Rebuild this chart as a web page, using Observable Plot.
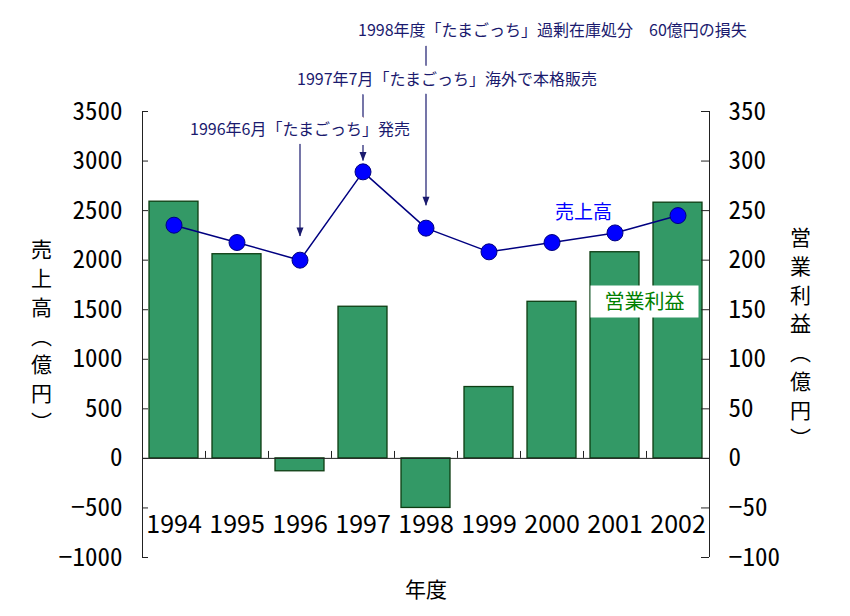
<!DOCTYPE html>
<html>
<head>
<meta charset="utf-8">
<script src="https://cdn.jsdelivr.net/npm/d3@7"></script>
<script src="https://cdn.jsdelivr.net/npm/@observablehq/plot@0.6"></script>
<style>
  html, body { margin: 0; padding: 0; background: #fff; }
  #chart svg { display: block; }
  #chart g[aria-label="y-axis tick label"] text,
  #chart g[aria-label="year-label"] text { font-feature-settings: "hwid"; }
</style>
</head>
<body>
<div id="chart"></div>
<script>
// ---- data ----
const years = ["1994", "1995", "1996", "1997", "1998", "1999", "2000", "2001", "2002"];
const sales = [2353, 2178, 2000, 2891, 2323, 2084, 2178, 2275, 2450];      // 売上高 (億円), left axis
const profit = [259, 206, -13, 153, -50, 72, 158, 208, 258];                // 営業利益 (億円), right axis
const leftTicks = [-1000, -500, 0, 500, 1000, 1500, 2000, 2500, 3000, 3500];
const annoYear = ["1996", "1997", "1998"];
const annoText = [
  "1996年6月「たまごっち」発売",
  "1997年7月「たまごっち」海外で本格販売",
  "1998年度「たまごっち」過剰在庫処分　60億円の損失"
];
const annoTextY = [3310, 3820, 4310];
const annoLineTop = [3170, 3690, 4160];
const annoTip = [2240, 3000, 2550];

// ---- layout ----
const W = 850, H = 616, ML = 142, MR = 141, MT = 111, MB = 59;
const plotW = W - ML - MR;
const step = plotW / years.length;
const NUM_FONT = '"Noto Sans CJK JP","Noto Sans CJK SC",sans-serif';
const JP_FONT = '"Noto Sans CJK JP","Noto Sans CJK SC",sans-serif';
const NAVY = "#1a1a6e";
const fmt = d => (d < 0 ? "\u2212" : "") + Math.abs(d);

const annos = annoYear.map((year, i) => ({year, text: annoText[i], ty: annoTextY[i], top: annoLineTop[i], tip: annoTip[i]}));
const annoAnchor = ["middle", "start", "start"];
const annoDx = [0, -66, -68];

const rectSym = (w, h) => ({draw(ctx) { ctx.rect(-w / 2, -h / 2, w, h); }});
const arrowSym = {draw(ctx) { ctx.moveTo(-3.5, -9); ctx.lineTo(3.5, -9); ctx.lineTo(0, 0); ctx.closePath(); }};

const marks = [
  // bars: operating profit (right axis is 1/10 of left)
  Plot.barY(years, {x: d => d, y: (d, i) => profit[i] * 10, fill: "#339966", stroke: "#0d3d12", strokeWidth: 1.3}),
  Plot.ruleY([0], {stroke: "#222", strokeWidth: 1}),
  // category boundary ticks
  Plot.ruleX(years.slice(1), {x: d => d, dx: -step / 2, y1: 0, y2: 70, stroke: "#222"}),
  // axis lines
  Plot.ruleX([years[0]], {x: d => d, dx: -step / 2, y1: -1000, y2: 3500, stroke: "#222"}),
  Plot.ruleX([years[years.length - 1]], {x: d => d, dx: step / 2, y1: -1000, y2: 3500, stroke: "#222"}),
  Plot.ruleY(leftTicks, {y: d => d, insetRight: plotW - 6, stroke: "#222"}),
  Plot.ruleY(leftTicks, {y: d => d, insetLeft: plotW - 8, stroke: "#222"}),
  Plot.axisY({anchor: "left", ticks: leftTicks, tickSize: 0, tickPadding: 20, tickFormat: fmt, label: null, fontSize: 25, fontFamily: NUM_FONT, fill: "#000"}),
  Plot.axisY({anchor: "right", ticks: leftTicks, tickSize: 0, tickPadding: 19, tickFormat: d => fmt(d / 10), label: null, fontSize: 25, fontFamily: NUM_FONT, fill: "#000"}),
  // x labels
  Plot.text(years, {x: d => d, text: d => d, frameAnchor: "bottom", dy: -33, lineAnchor: "middle", fontSize: 25, fontFamily: NUM_FONT, fill: "#000", ariaLabel: "year-label"}),
  Plot.text(["年度"], {text: d => d, frameAnchor: "bottom", dy: 33, lineAnchor: "middle", fontSize: 21, fontFamily: JP_FONT, fill: "#000"}),
  // vertical axis titles
  Plot.text(["売\n上\n高\n︵\n億\n円\n︶"], {text: d => d, frameAnchor: "left", dx: -101, textAnchor: "middle", lineAnchor: "middle", lineHeight: 1.37, fontSize: 21, fontFamily: JP_FONT, fill: "#000"}),
  Plot.text(["営\n業\n利\n益\n︵\n億\n円\n︶"], {text: d => d, frameAnchor: "right", dx: 91, dy: 2, textAnchor: "middle", lineAnchor: "middle", lineHeight: 1.37, fontSize: 21, fontFamily: JP_FONT, fill: "#000"}),
  // sales line
  Plot.line(years, {x: d => d, y: (d, i) => sales[i], stroke: "#000080", strokeWidth: 1.5}),
  Plot.dot(years, {x: d => d, y: (d, i) => sales[i], r: 8, fill: "#0000ff", stroke: "#000080", strokeWidth: 1}),
  // annotation arrows
  Plot.ruleX(annos, {x: "year", y1: "top", y2: "tip", stroke: NAVY, strokeWidth: 1.2}),
  Plot.dot(annos, {x: "year", y: "tip", symbol: arrowSym, fill: NAVY}),
  ...annos.map((a, i) => Plot.text([a], {x: "year", y: "ty", text: "text", textAnchor: annoAnchor[i], dx: annoDx[i], lineAnchor: "middle", fontSize: 16, fontFamily: JP_FONT, fill: NAVY, stroke: "white", strokeWidth: 16, paintOrder: "stroke"})),
  // legends
  Plot.text(["売上高"], {text: d => d, frameAnchor: "top-left", dx: 441, dy: 101, textAnchor: "middle", lineAnchor: "middle", fontSize: 19, fontFamily: JP_FONT, fill: "#0000ff"}),
  Plot.dot([0], {frameAnchor: "top-left", dx: 502, dy: 190, symbol: rectSym(108, 32), fill: "white"}),
  Plot.text(["営業利益"], {text: d => d, frameAnchor: "top-left", dx: 502, dy: 191, textAnchor: "middle", lineAnchor: "middle", fontSize: 20, fontFamily: JP_FONT, fill: "#008000"})
];

const chart = Plot.plot({
  width: W, height: H,
  marginLeft: ML, marginRight: MR, marginTop: MT, marginBottom: MB,
  x: {type: "band", domain: years, paddingInner: 0.23, paddingOuter: 0.115, axis: null},
  y: {domain: [-1000, 3500], axis: null},
  style: {background: "white", overflow: "visible"},
  marks
});
document.getElementById("chart").appendChild(chart);
</script>
</body>
</html>
